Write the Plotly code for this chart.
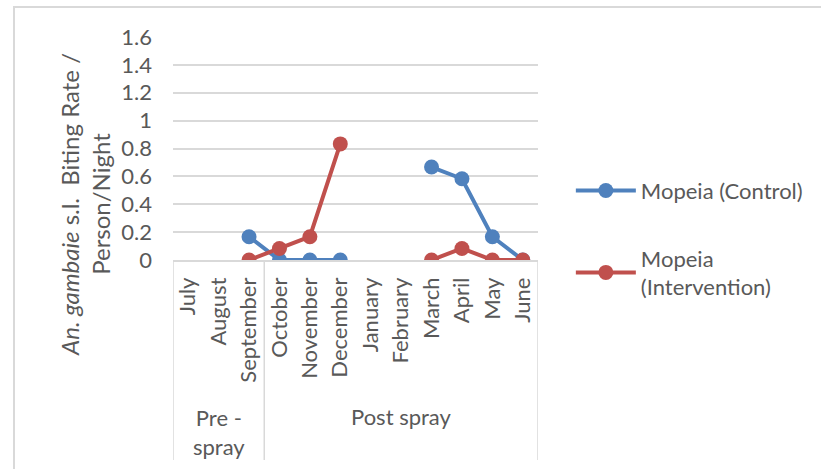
import plotly.graph_objects as go

months = ["July", "August", "September", "October", "November", "December",
          "January", "February", "March", "April", "May", "June"]
control = [None, None, 0.167, 0.0, 0.0, 0.0, None, None, 0.667, 0.583, 0.167, 0.0]
intervention = [None, None, 0.0, 0.083, 0.167, 0.833, None, None, 0.0, 0.083, 0.0, 0.0]
y_ticks = [0, 0.2, 0.4, 0.6, 0.8, 1, 1.2, 1.4, 1.6]
y_tick_text = ["0", "0.2", "0.4", "0.6", "0.8", "1", "1.2", "1.4", "1.6"]
groups = [("Pre -<br>spray", 0, 2), ("Post spray", 3, 11)]

FONT = "Lato"
FS = 22
GRAY = "#595959"
LINE = "#d9d9d9"
BLUE = "#4f81bd"
RED = "#c0504d"

fig = go.Figure()
fig.add_trace(go.Scatter(x=months, y=control, mode="lines+markers", name="Mopeia (Control)",
                         line=dict(color=BLUE, width=4), marker=dict(size=15, color=BLUE),
                         legendgroup="a", connectgaps=False))
fig.add_trace(go.Scatter(x=months, y=intervention, mode="lines+markers", name="Mopeia<br>(Intervention)",
                         line=dict(color=RED, width=4), marker=dict(size=15, color=RED),
                         legendgroup="b", connectgaps=False))

shapes = []
# outer chart border (only left/top edges fall inside the picture)
shapes.append(dict(type="rect", xref="paper", yref="paper", x0=-0.4356, x1=1.9, y0=-1.2, y1=1.1345,
                   line=dict(color=LINE, width=2), layer="below"))
# category box lines
bounds = [-0.5] + [g[2] + 0.5 for g in groups]
for b in bounds:
    shapes.append(dict(type="line", xref="x", yref="paper", x0=b, x1=b, y0=0, y1=-0.897,
                       line=dict(color=LINE, width=1.5)))

annotations = []
for label, a, b in groups:
    nlines = label.count("<br>") + 1
    ymid = -0.704 - 0.0675 * (nlines - 1)
    annotations.append(dict(x=(a + b) / 2, y=ymid, xref="x", yref="paper", text=label,
                            showarrow=False, yanchor="middle",
                            font=dict(family=FONT, size=FS, color=GRAY)))

annotations.append(dict(x=-0.241, y=0.247, xref="paper", yref="paper",
                        text="<i>An. gambaie</i> s.l.  Biting Rate /<br>Person/Night",
                        textangle=-90, showarrow=False, xanchor="center", yanchor="middle",
                        align="center",
                        font=dict(family=FONT, size=24, color=GRAY)))

fig.update_layout(
    width=821, height=469,
    margin=dict(l=173, r=283, t=37, b=209),
    paper_bgcolor="white", plot_bgcolor="white",
    showlegend=True,
    legend=dict(x=1.09, y=0.405, xanchor="left", yanchor="top",
                font=dict(family=FONT, size=FS, color=GRAY),
                tracegroupgap=36, itemwidth=60, bgcolor="rgba(0,0,0,0)"),
    shapes=shapes, annotations=annotations,
    font=dict(family=FONT, size=FS, color=GRAY),
)
fig.update_xaxes(type="category", categoryorder="array", categoryarray=months,
                 range=[-0.5, 11.5], tickangle=-90, showgrid=False,
                 showline=True, linecolor=LINE, linewidth=1.5, ticks="",
                 tickfont=dict(family=FONT, size=FS, color=GRAY), ticklabelstandoff=7)
fig.update_yaxes(range=[0, 1.6], tickvals=y_ticks, ticktext=y_tick_text, showgrid=True,
                 gridcolor=LINE, gridwidth=1.5, zeroline=False, showline=False, ticks="",
                 tickfont=dict(family=FONT, size=FS, color=GRAY), ticklabelstandoff=20)

fig.write_html("out.html")
